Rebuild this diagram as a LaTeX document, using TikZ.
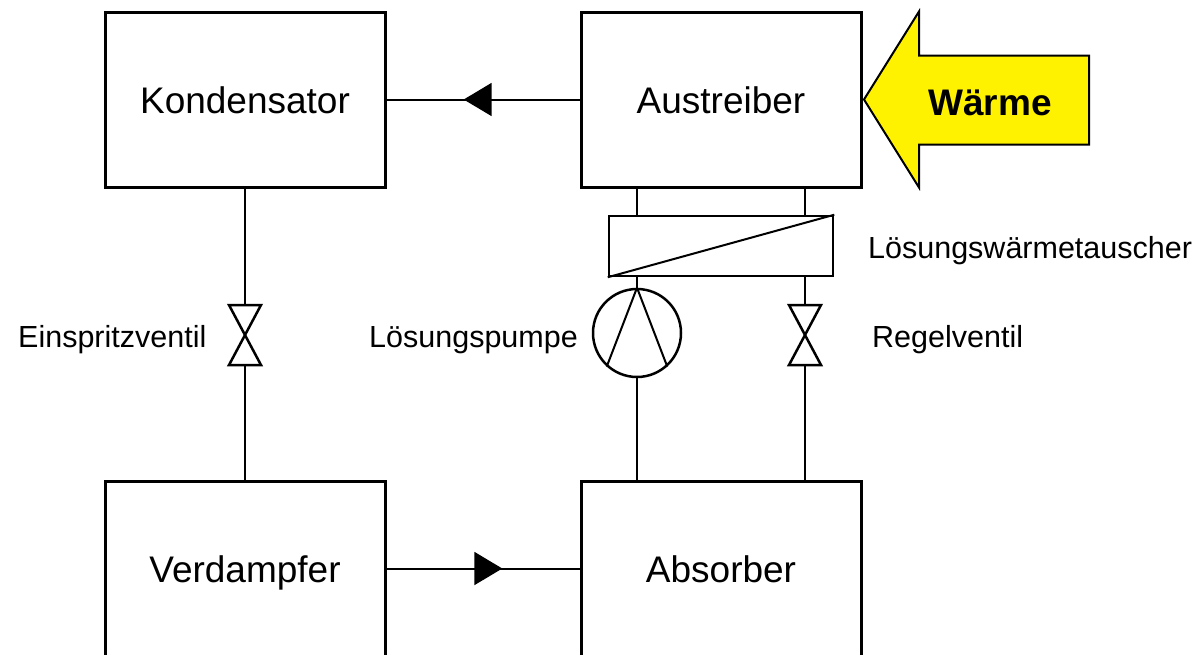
\documentclass[tikz,border=0pt]{standalone}
\usepackage{fontspec}
\setmainfont{Liberation Sans}
\usetikzlibrary{arrows.meta,decorations.markings}

\begin{document}
\begin{tikzpicture}[x=1pt, y=-1pt,
	box/.style={draw, line width=3pt, minimum width=280pt, minimum height=175pt, inner sep=0pt, text height=27pt, text depth=0pt, font=\fontsize{37}{40}\selectfont},
	pipe/.style={line width=2.5pt},
	flow/.style={line width=2pt, decoration={markings, mark=at position 0.6 with {\arrow{Triangle[length=28pt, width=33pt]}}}, postaction={decorate}},
	valve/.style={minimum width=32pt, minimum height=60pt, inner sep=0pt, outer sep=0pt},
	bowtie/.style={line width=2.5pt, line join=miter},
	lbl/.style={inner sep=0pt, font=\fontsize{30.5}{33}\selectfont},
	heat/.style={draw, fill=yellow, line width=2pt, line join=miter}]
	% Paths, nodes and wires:
	\clip (0, 0) rectangle (1203, 654);
	\node[box] (kond) at (245, 99.5){Kondensator};
	\node[box] (aus) at (721, 99.5){Austreiber};
	\node[box] (verd) at (245, 568.5){Verdampfer};
	\node[box] (abs) at (721, 568.5){Absorber};
	\node[draw, line width=2.5pt, minimum width=224pt, minimum height=60pt, inner sep=0pt] (wt) at (721, 246){};
	\draw[line width=2pt] (wt.south west) -- (wt.north east);
	\node[draw, circle, line width=2.5pt, minimum size=88pt, inner sep=0pt] (pumpe) at (637, 333){};
	\draw[line width=2pt] (pumpe.-132) -- (pumpe.north) -- (pumpe.-48);
	\node[valve] (einspritz) at (245, 335){};
	\draw[bowtie] (einspritz.north west) -- (einspritz.north east) -- (einspritz.south west) -- (einspritz.south east) -- cycle;
	\node[valve] (regel) at (805, 335){};
	\draw[bowtie] (regel.north west) -- (regel.north east) -- (regel.south west) -- (regel.south east) -- cycle;
	\draw[pipe] (kond.south) -- (einspritz.north);
	\draw[pipe] (einspritz.south) -- (verd.north);
	\draw[pipe] (aus.south -| pumpe.north) -- (wt.north -| pumpe.north);
	\draw[pipe] (aus.south -| regel.north) -- (wt.north -| regel.north);
	\draw[pipe] (wt.south -| pumpe.north) -- (pumpe.north);
	\draw[pipe] (pumpe.south) -- (abs.north -| pumpe.south);
	\draw[pipe] (wt.south -| regel.north) -- (regel.north);
	\draw[pipe] (regel.south) -- (abs.north -| regel.south);
	\draw[flow] (aus.west) -- (kond.east);
	\draw[flow] (verd.east) -- (abs.west);
	\draw[heat] (aus.east) ++(1.5, 0) -- ++(55, -88) -- ++(0, 44) -- ++(170, 0) -- ++(0, 89) -- ++(-170, 0) -- ++(0, 43) -- cycle;
	\node[inner sep=0pt, anchor=base, font=\fontsize{37}{40}\selectfont\bfseries] (waerme) at (990, 115){Wärme};
	\node[lbl, anchor=base west] (wtlbl) at (868, 258){Lösungswärmetauscher};
	\node[lbl, anchor=base east] (pumpelbl) at (578, 347){Lösungspumpe};
	\node[lbl, anchor=base west] (regellbl) at (872, 347){Regelventil};
	\node[lbl, anchor=base west] (einspritzlbl) at (18, 347){Einspritzventil};
\end{tikzpicture}
\end{document}
